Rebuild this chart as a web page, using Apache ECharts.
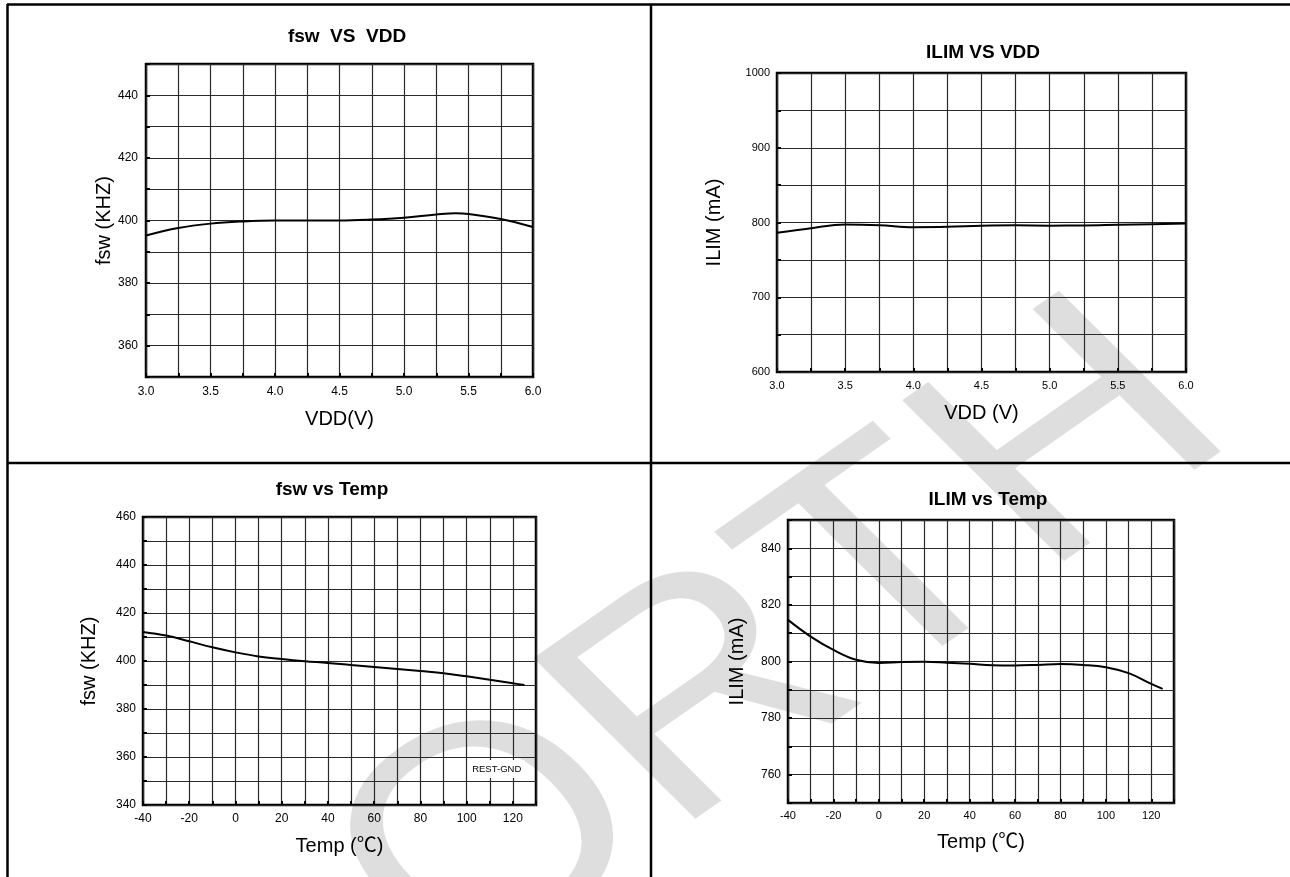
<!DOCTYPE html>
<html>
<head>
<meta charset="utf-8">
<title>fsw / ILIM characteristics</title>
<script src="https://cdn.jsdelivr.net/npm/echarts@6/dist/echarts.min.js"></script>
<style>
  html, body { margin: 0; padding: 0; background: #fff; }
  #chart { width: 1290px; height: 877px; }
</style>
</head>
<body>
<div id="chart"></div>
<script>
// ---- data ----
const vddX = [3.0, 3.25, 3.5, 3.75, 4.0, 4.25, 4.5, 4.75, 5.0, 5.25, 5.4, 5.5, 5.75, 6.0]
const fswVdd = [395.2, 397.6, 399.0, 399.7, 400.0, 400.0, 400.0, 400.3, 400.9, 401.9, 402.3, 402.1, 400.5, 397.9]

const ilimVddX = [3.0, 3.25, 3.5, 3.75, 4.0, 4.25, 4.5, 4.75, 5.0, 5.25, 5.5, 5.75, 6.0]
const ilimVdd = [786.2, 792.4, 797.3, 796.4, 793.8, 794.2, 795.6, 796.2, 795.8, 796.0, 796.9, 797.8, 798.7]

const tempX = [-40, -30, -20, -10, 0, 10, 20, 30, 40, 50, 60, 70, 80, 90, 100, 110, 120, 125]
const fswTemp = [412.1, 410.6, 408.2, 405.7, 403.6, 401.9, 400.8, 399.9, 399.2, 398.3, 397.5, 396.7, 395.8, 394.9, 393.6, 392.2, 390.7, 390.0]
const ilimTemp = [814.7, 808.8, 804.1, 800.6, 799.5, 799.8, 799.9, 799.6, 799.2, 798.7, 798.6, 798.8, 799.1, 798.8, 798.0, 795.9, 792.1, 790.3]

// tick labels that carry text (grid lines are drawn at every half step)
const vddTicks = [3.0, 3.5, 4.0, 4.5, 5.0, 5.5, 6.0]
const tempTicks = [-40, -20, 0, 20, 40, 60, 80, 100, 120]
const fswVddTicks = [360, 380, 400, 420, 440]
const ilimVddTicks = [600, 700, 800, 900, 1000]
const fswTempTicks = [340, 360, 380, 400, 420, 440, 460]
const ilimTempTicks = [760, 780, 800, 820, 840]

const titles = ['fsw  VS  VDD', 'ILIM VS VDD', 'fsw vs Temp', 'ILIM vs Temp']
const noteText = 'REST-GND'

const FONT = '"Liberation Sans", Arial, "Noto Sans CJK SC", sans-serif'

const chart = echarts.init(document.getElementById('chart'), null, { renderer: 'canvas' })

const pairs = (xs, ys) => xs.map((x, i) => [x, ys[i]])

// label formatter that only prints the listed ticks
const onlyTicks = (ticks, digits) => (v) => {
  const hit = ticks.some(t => Math.abs(t - v) < 1e-6)
  if (!hit) return ''
  return digits ? v.toFixed(digits) : String(v)
}

const makeAxis = (cfg) => ({
  type: 'value',
  gridIndex: cfg.grid,
  min: cfg.min,
  max: cfg.max,
  interval: cfg.interval,
  name: cfg.name,
  nameLocation: 'middle',
  nameGap: cfg.nameGap,
  nameTextStyle: { color: '#000', fontSize: 20, fontFamily: FONT },
  axisLine: { show: false, onZero: false },
  axisTick: { show: true, inside: true, length: 4, lineStyle: { color: '#000', width: 2 } },
  axisLabel: {
    color: '#000',
    fontSize: cfg.labelSize || 12,
    fontFamily: FONT,
    margin: cfg.margin,
    showMinLabel: true,
    showMaxLabel: true,
    formatter: onlyTicks(cfg.ticks, cfg.digits)
  },
  splitLine: { show: true, lineStyle: { color: '#2a2a2a', width: 1.2 } }
})

const gridBase = { show: true, borderColor: '#000', borderWidth: 2.5, backgroundColor: 'transparent', containLabel: false, outerBoundsMode: 'none' }

const lineSeries = (idx, data) => ({
  type: 'line',
  xAxisIndex: idx,
  yAxisIndex: idx,
  data,
  smooth: 0.4,
  showSymbol: false,
  silent: true,
  lineStyle: { color: '#000', width: 2 },
  z: 5
})

const titleText = (text, x, y) => ({
  type: 'text',
  x, y,
  style: { text, fill: '#000', font: 'bold 19px ' + FONT, align: 'center', verticalAlign: 'middle' }
})

const frameLine = (x1, y1, x2, y2) => ({
  type: 'line',
  shape: { x1, y1, x2, y2 },
  style: { stroke: '#000', lineWidth: 2.5 }
})

const option = {
  backgroundColor: '#fff',
  animation: false,
  graphic: [
    // watermark behind the plots (rotated, then stretched sideways like the scan)
    {
      type: 'group',
      x: 784, y: 647,
      scaleX: 1.2,
      z: -10,
      silent: true,
      children: [{
        type: 'text',
        rotation: 0.698,
        z: -10,
        style: { text: 'ORTH', fill: '#dedede', font: '305px ' + FONT, align: 'center', verticalAlign: 'middle' }
      }]
    },
    frameLine(7, 4.5, 1290, 4.5),
    frameLine(7.5, 4, 7.5, 877),
    frameLine(651, 4, 651, 877),
    frameLine(7, 463, 1290, 463),
    titleText(titles[0], 347, 37),
    titleText(titles[1], 983, 53),
    titleText(titles[2], 332, 490),
    titleText(titles[3], 988, 500)
  ],
  grid: [
    { ...gridBase, left: 146, top: 64, width: 387, height: 313 },
    { ...gridBase, left: 777, top: 73, width: 409, height: 299 },
    { ...gridBase, left: 143, top: 517, width: 393, height: 288 },
    { ...gridBase, left: 788, top: 520, width: 386, height: 283 }
  ],
  xAxis: [
    makeAxis({ grid: 0, min: 3, max: 6, interval: 0.25, name: 'VDD(V)', nameGap: 32, margin: 9, ticks: vddTicks, digits: 1 }),
    makeAxis({ grid: 1, min: 3, max: 6, interval: 0.25, name: 'VDD (V)', nameGap: 31, margin: 8, ticks: vddTicks, digits: 1, labelSize: 11 }),
    makeAxis({ grid: 2, min: -40, max: 130, interval: 10, name: 'Temp (℃)', nameGap: 31, margin: 8, ticks: tempTicks }),
    makeAxis({ grid: 3, min: -40, max: 130, interval: 10, name: 'Temp (℃)', nameGap: 29, margin: 7, ticks: tempTicks, labelSize: 11 })
  ],
  yAxis: [
    makeAxis({ grid: 0, min: 350, max: 450, interval: 10, name: 'fsw (KHZ)', nameGap: 31, margin: 8, ticks: fswVddTicks }),
    makeAxis({ grid: 1, min: 600, max: 1000, interval: 50, name: 'ILIM (mA)', nameGap: 53, margin: 7, ticks: ilimVddTicks, labelSize: 11 }),
    makeAxis({ grid: 2, min: 340, max: 460, interval: 10, name: 'fsw (KHZ)', nameGap: 44, margin: 7, ticks: fswTempTicks }),
    makeAxis({ grid: 3, min: 750, max: 850, interval: 10, name: 'ILIM (mA)', nameGap: 41, margin: 7, ticks: ilimTempTicks })
  ],
  series: [
    lineSeries(0, pairs(vddX, fswVdd)),
    lineSeries(1, pairs(ilimVddX, ilimVdd)),
    {
      ...lineSeries(2, pairs(tempX, fswTemp)),
      markPoint: {
        silent: true,
        symbol: 'rect',
        symbolSize: [56, 18],
        itemStyle: { color: '#fff' },
        label: { show: true, formatter: noteText, color: '#000', fontSize: 9.5, fontFamily: FONT },
        data: [{ coord: [113, 355] }]
      }
    },
    lineSeries(3, pairs(tempX, ilimTemp))
  ]
}

chart.setOption(option)
</script>
</body>
</html>
